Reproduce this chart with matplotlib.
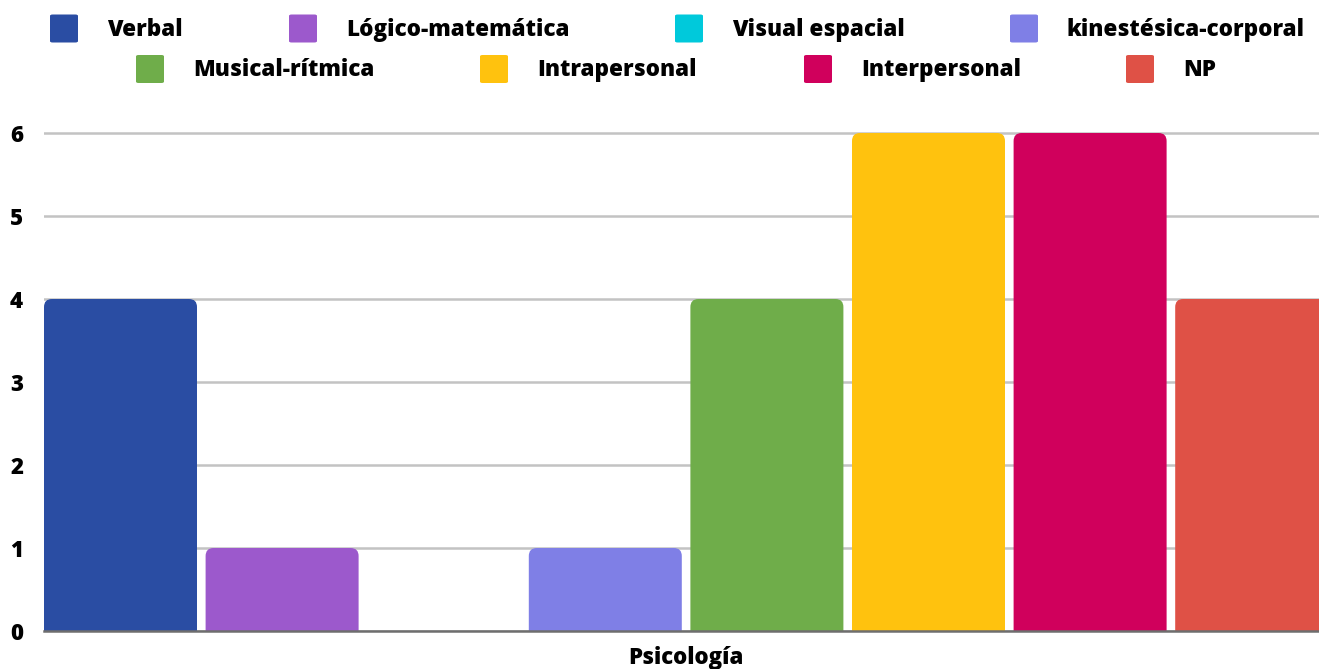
import matplotlib.pyplot as plt
from matplotlib.patches import FancyBboxPatch

# ── Data ─────────────────────────────────────────────────────────────────────
series = ["Verbal", "Lógico-matemática", "Visual espacial", "kinestésica-corporal",
          "Musical-rítmica", "Intrapersonal", "Interpersonal", "NP"]
values = [4, 1, 0, 1, 4, 6, 6, 4]
colors = ["#2A4DA3", "#9C59CC", "#00C9DB", "#7F7FE6",
          "#6FAD4A", "#FFC20E", "#D0005C", "#DF5146"]
category = "Psicología"
yticks = [0, 1, 2, 3, 4, 5, 6]

plt.rcParams["font.family"] = ["Open Sans", "DejaVu Sans"]
WEIGHT = 800

W, H = 1319, 669
fig = plt.figure(figsize=(W / 100, H / 100), dpi=100)
fig.patch.set_facecolor("white")

# axes geometry in pixels (plot runs past the right edge, as in the original)
slot_px = 161.6
ax_left, ax_bottom, unit_px = 44, 38, 83
ymax = 6.03
ax = fig.add_axes([ax_left / W, ax_bottom / H,
                   len(series) * slot_px / W, ymax * unit_px / H])
ax.set_xlim(0, len(series))
ax.set_ylim(0, ymax)

# ── Bars with rounded top corners ────────────────────────────────────────────
bar_w = 153 / slot_px
r_px = 8
rx = r_px / slot_px
ry = r_px / unit_px
for i, (v, c) in enumerate(zip(values, colors)):
    if v <= 0:
        continue
    p = FancyBboxPatch((i, -ry), bar_w, v + ry,
                       boxstyle=f"round,pad=0,rounding_size={rx}",
                       mutation_aspect=ry / rx,
                       facecolor=c, edgecolor="none", zorder=3)
    ax.add_patch(p)

# ── Grid / axes ──────────────────────────────────────────────────────────────
ax.set_yticks(yticks)
ax.set_yticklabels([str(t) for t in yticks])
ax.yaxis.grid(True, color="#C3C3C3", linewidth=1.8, zorder=1)
ax.set_axisbelow(True)
ax.axhline(0, color="#6E6E6E", linewidth=1.8, zorder=4, clip_on=False)
for s in ax.spines.values():
    s.set_visible(False)
ax.set_xticks([])
ax.tick_params(axis="y", length=0, pad=15, labelsize=16)
for lab in ax.get_yticklabels():
    lab.set_fontweight(WEIGHT)

fig.text(686 / W, 1 - 664 / H, category, ha="center", va="baseline",
         fontsize=16, fontweight=WEIGHT, color="black")

# ── Legend (two centred rows, as in the Sheets export) ───────────────────────
leg_x = [50, 289, 675, 1010, 136, 480, 804, 1126]
leg_y = [28.5, 28.5, 28.5, 28.5, 69, 69, 69, 69]
sw = 28
for name, c, x, y in zip(series, colors, leg_x, leg_y):
    fig.add_artist(FancyBboxPatch((x / W, 1 - (y + sw / 2) / H), sw / W, sw / H,
                                  boxstyle="round,pad=0,rounding_size=0.002",
                                  transform=fig.transFigure,
                                  facecolor=c, edgecolor="none"))
    fig.text((x + sw + 29) / W, 1 - (y + 7.5) / H, name, ha="left", va="baseline",
             fontsize=16.2, fontweight=WEIGHT, color="black")

fig.savefig("out.png", dpi=100, facecolor="white")
